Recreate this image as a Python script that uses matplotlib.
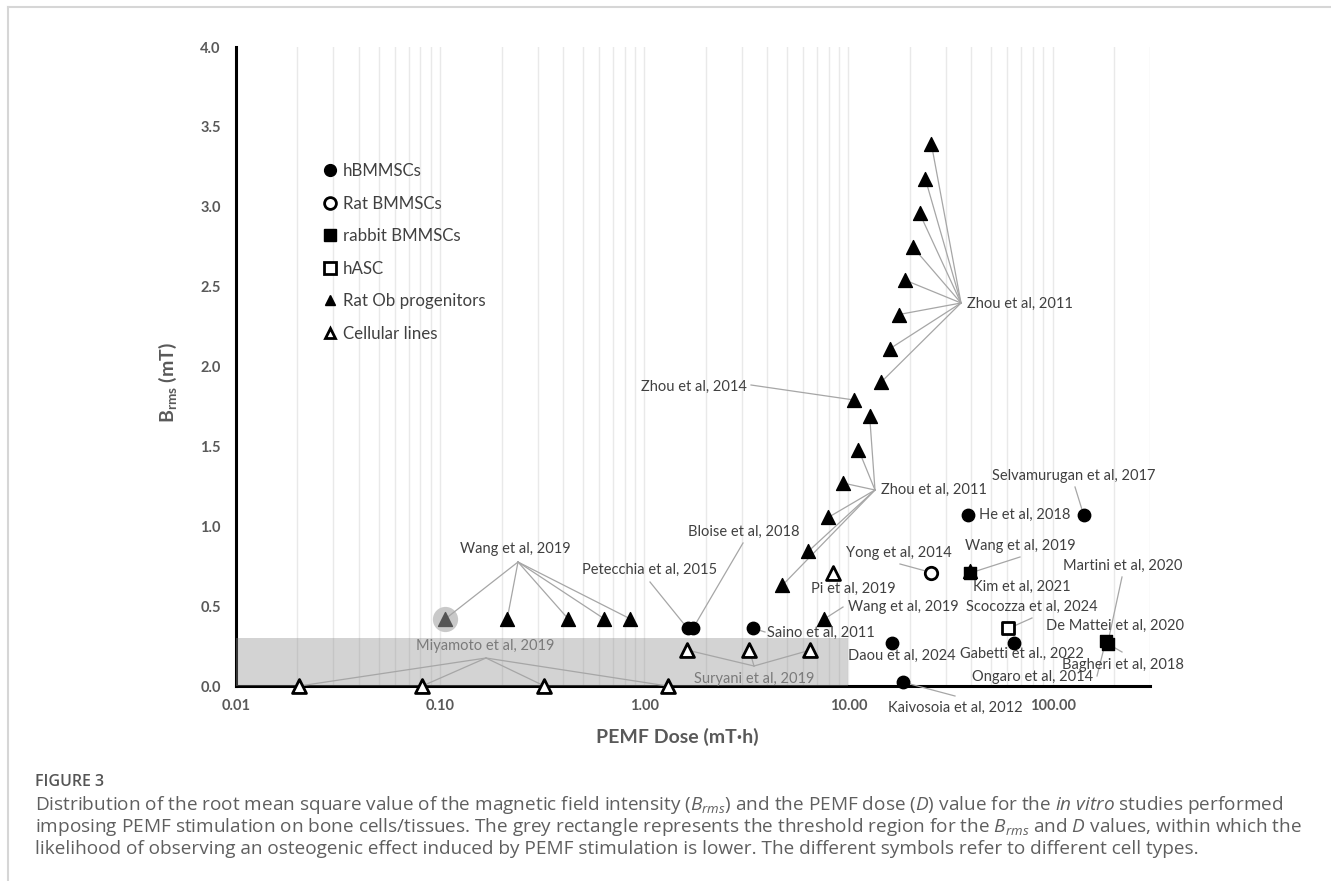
import matplotlib
matplotlib.use('Agg')
import matplotlib.pyplot as plt
from matplotlib.lines import Line2D
from matplotlib.patches import Rectangle
from matplotlib.ticker import FixedLocator, FormatStrFormatter, NullFormatter

plt.rcParams['font.family'] = ['Lato', 'DejaVu Sans']
plt.rcParams['mathtext.fontset'] = 'custom'
plt.rcParams['mathtext.rm'] = 'Lato'
plt.rcParams['mathtext.it'] = 'Lato:italic'
plt.rcParams['mathtext.bf'] = 'Lato:bold'

# ---------------- data (PEMF dose in mT*h, Brms in mT) ----------------
# hBMMSCs (filled circles)
petecchia_dose, petecchia_brms = [1.63], [0.36]
bloise_dose, bloise_brms = [1.73], [0.36]
saino_dose, saino_brms = [3.42], [0.36]
daou_dose, daou_brms = [16.3], [0.27]
kaivosoia_dose, kaivosoia_brms = [18.4], [0.025]
he_dose, he_brms = [38.7], [1.07]
selvamurugan_dose, selvamurugan_brms = [142.0], [1.07]
gabetti_dose, gabetti_brms = [64.4], [0.27]
# Rat BMMSCs (open circle)
yong_dose, yong_brms = [25.5], [0.71]
# rabbit BMMSCs (filled squares)
wang_rab_dose, wang_rab_brms = [39.2], [0.706]
demattei_dose, demattei_brms = [182.0], [0.28]
bagheri_dose, bagheri_brms = [186.0], [0.265]
# hASC (open square)
scocozza_dose, scocozza_brms = [60.8], [0.36]
# Rat Ob progenitors (filled triangles)
wang_ob_dose = [0.106, 0.213, 0.424, 0.637, 0.854]
wang_ob_brms = [0.42, 0.42, 0.42, 0.42, 0.42]
wang_ob2_dose, wang_ob2_brms = [7.63], [0.42]
kim_dose, kim_brms = [39.2], [0.72]
zhou11a_dose = [25.5, 23.8, 22.3, 20.6, 19.0, 17.6, 15.9, 14.4]
zhou11a_brms = [3.39, 3.175, 2.96, 2.75, 2.54, 2.325, 2.11, 1.90]
zhou14_dose, zhou14_brms = [10.7], [1.79]
zhou11b_dose = [12.7, 11.2, 9.45, 7.98, 6.37, 4.75]
zhou11b_brms = [1.69, 1.48, 1.27, 1.056, 0.844, 0.631]
# Cellular lines (open triangles)
miyamoto_dose = [0.0204, 0.0817, 0.324, 1.30]
miyamoto_brms = [0.0, 0.0, 0.0, 0.0]
suryani_dose = [1.62, 3.27, 6.51]
suryani_brms = [0.225, 0.225, 0.225]
pi_dose, pi_brms = [8.44], [0.71]

threshold_dose = 10.0
threshold_brms = 0.3

x_ticks = [0.01, 0.1, 1, 10, 100]
y_ticks = [0.0, 0.5, 1.0, 1.5, 2.0, 2.5, 3.0, 3.5, 4.0]
legend_labels = ['hBMMSCs', 'Rat BMMSCs', 'rabbit BMMSCs', 'hASC',
                 'Rat Ob progenitors', 'Cellular lines']

# ---------------- figure ----------------
W, H = 1331, 881
fig = plt.figure(figsize=(W / 100, H / 100), dpi=100)
ax = fig.add_axes([236 / W, 1 - 686 / H, (1150 - 236) / W, (686 - 47) / H])
ax.set_xscale('log')
ax.set_xlim(0.01, 300)
ax.set_ylim(0, 4)

def P(px, py):
    return tuple(ax.transData.inverted().transform((px, H - py)))

# grid / ticks
minor = [m * 10.0 ** e for e in range(-2, 3) for m in range(2, 10) if m * 10.0 ** e <= 300]
ax.xaxis.set_major_locator(FixedLocator(x_ticks))
ax.xaxis.set_major_formatter(FormatStrFormatter('%.2f'))
ax.xaxis.set_minor_locator(FixedLocator(minor))
ax.xaxis.set_minor_formatter(NullFormatter())
ax.set_yticks(y_ticks)
ax.yaxis.set_major_formatter(FormatStrFormatter('%.1f'))
ax.grid(which='both', axis='x', color='#e9e9e9', lw=1.0, zorder=0)
ax.set_axisbelow(True)
ax.tick_params(which='both', length=0, labelsize=10.5, labelcolor='#595959')
ax.tick_params(axis='y', pad=11)
ax.tick_params(axis='x', pad=9)
for lab in ax.get_xticklabels() + ax.get_yticklabels():
    lab.set_fontweight('bold')
for s in ['top', 'right']:
    ax.spines[s].set_visible(False)
for s in ['left', 'bottom']:
    ax.spines[s].set_linewidth(2.2)
    ax.spines[s].set_color('black')

# threshold rectangle
ax.add_patch(Rectangle((0.01, 0), threshold_dose - 0.01, threshold_brms,
                       facecolor='#8c8c8c', alpha=0.38, edgecolor='none', zorder=3,
                       clip_on=False))

# markers
ms_c, ms_t, ms_s = 80, 100, 80
def filled_circ(x, y):
    ax.scatter(x, y, s=ms_c, marker='o', color='black', zorder=5, clip_on=False)
def open_circ(x, y):
    ax.scatter(x, y, s=ms_c, marker='o', facecolor='white', edgecolor='black', linewidth=2, zorder=5, clip_on=False)
def filled_sq(x, y):
    ax.scatter(x, y, s=ms_s, marker='s', color='black', zorder=5, clip_on=False)
def open_sq(x, y):
    ax.scatter(x, y, s=ms_s, marker='s', facecolor='white', edgecolor='black', linewidth=2, zorder=5, clip_on=False)
def filled_tri(x, y, color='black'):
    ax.scatter(x, y, s=ms_t, marker='^', color=color, zorder=5, clip_on=False)
def open_tri(x, y):
    ax.scatter(x, y, s=ms_t, marker='^', facecolor='white', edgecolor='black', linewidth=2, zorder=5, clip_on=False)

for dx, dy in [(petecchia_dose, petecchia_brms), (bloise_dose, bloise_brms),
               (saino_dose, saino_brms), (daou_dose, daou_brms),
               (kaivosoia_dose, kaivosoia_brms), (he_dose, he_brms),
               (selvamurugan_dose, selvamurugan_brms), (gabetti_dose, gabetti_brms)]:
    filled_circ(dx, dy)
open_circ(yong_dose, yong_brms)
filled_tri(kim_dose, kim_brms)
for dx, dy in [(wang_rab_dose, wang_rab_brms), (demattei_dose, demattei_brms),
               (bagheri_dose, bagheri_brms)]:
    filled_sq(dx, dy)
open_sq(scocozza_dose, scocozza_brms)
# highlighted first point of the Wang cluster
ax.scatter(wang_ob_dose[:1], wang_ob_brms[:1], s=330, color='#c9c9c9', zorder=4, linewidth=0)
filled_tri(wang_ob_dose[:1], wang_ob_brms[:1], color='#555555')
filled_tri(wang_ob_dose[1:], wang_ob_brms[1:])
for dx, dy in [(wang_ob2_dose, wang_ob2_brms), (zhou11a_dose, zhou11a_brms),
               (zhou14_dose, zhou14_brms), (zhou11b_dose, zhou11b_brms)]:
    filled_tri(dx, dy)
for dx, dy in [(miyamoto_dose, miyamoto_brms), (suryani_dose, suryani_brms), (pi_dose, pi_brms)]:
    open_tri(dx, dy)

# ---------------- annotations ----------------
def pts(dx, dy):
    return list(zip(dx, dy))

DARK, LIGHT, LEAD = '#404040', '#7a7a7a', '#a6a6a6'
annotations = [
    ("Wang et al, 2019", (515, 549), 'center', (518, 562), pts(wang_ob_dose, wang_ob_brms), DARK),
    ("Miyamoto et al, 2019", (485, 646), 'center', (486, 658), pts(miyamoto_dose, miyamoto_brms), LIGHT),
    ("Suryani et al, 2019", (754, 679), 'center', (754, 666), pts(suryani_dose, suryani_brms), LIGHT),
    ("Petecchia et al, 2015", (650, 570), 'center', (650, 582), pts(petecchia_dose, petecchia_brms), DARK),
    ("Bloise et al, 2018", (744, 532), 'center', (743, 543), pts(bloise_dose, bloise_brms), DARK),
    ("Saino et al, 2011", (767, 633), 'left', (765, 632), pts(saino_dose, saino_brms), DARK),
    ("Wang et al, 2019", (848, 607), 'left', (843, 607), pts(wang_ob2_dose, wang_ob2_brms), DARK),
    ("Pi et al, 2019", (853, 589), 'center', None, [], DARK),
    ("Yong et al, 2014", (899, 553), 'center', (900, 564), pts(yong_dose, yong_brms), DARK),
    ("Daou et al, 2024", (902, 656), 'center', None, [], DARK),
    ("Kaivosoia et al, 2012", (955, 708), 'center', (955, 696), pts(kaivosoia_dose, kaivosoia_brms), DARK),
    ("He et al, 2018", (1025, 515), 'center', None, [], DARK),
    ("Selvamurugan et al, 2017", (1074, 476), 'center', (1075, 487), pts(selvamurugan_dose, selvamurugan_brms), DARK),
    ("Wang et al, 2019", (1020, 546), 'center', (1020, 557), pts(wang_rab_dose, wang_rab_brms), DARK),
    ("Kim et al, 2021", (1022, 587), 'center', None, [], DARK),
    ("Scocozza et al, 2024", (1032, 607), 'center', (1032, 618), pts(scocozza_dose, scocozza_brms), DARK),
    ("Gabetti et al., 2022", (1022, 654), 'center', None, [], DARK),
    ("Martini et al, 2020", (1123, 566), 'center', (1122, 577), pts(bagheri_dose, bagheri_brms), DARK),
    ("De Mattei et al, 2020", (1115, 626), 'center', None, [], DARK),
    ("Bagheri et al, 2018", (1123, 665), 'center', (1122, 652), pts(bagheri_dose, bagheri_brms), DARK),
    ("Ongaro et al, 2014", (1033, 677), 'center', (1097, 676), pts(demattei_dose, demattei_brms), DARK),
    ("Zhou et al, 2011", (967, 304), 'left', (961, 303), pts(zhou11a_dose, zhou11a_brms), DARK),
    ("Zhou et al, 2014", (694, 387), 'center', (751, 385), pts(zhou14_dose, zhou14_brms), DARK),
    ("Zhou et al, 2011", (881, 490), 'left', (875, 490), pts(zhou11b_dose, zhou11b_brms), DARK),
]

for text, tpos, ha, hub, targets, col in annotations:
    tx, ty = P(*tpos)
    ax.text(tx, ty, text, ha=ha, va='center', fontsize=10.5, color=col, zorder=6, clip_on=False)
    if hub is not None:
        hx, hy = P(*hub)
        for (x, y) in targets:
            ax.plot([hx, x], [hy, y], color=LEAD, lw=0.9, zorder=4.5, clip_on=False)

# legend
handles = [
    Line2D([], [], ls='none', marker='o', ms=8.5, mfc='black', mec='black'),
    Line2D([], [], ls='none', marker='o', ms=8.5, mfc='white', mec='black', mew=2),
    Line2D([], [], ls='none', marker='s', ms=8.5, mfc='black', mec='black'),
    Line2D([], [], ls='none', marker='s', ms=8.5, mfc='white', mec='black', mew=2),
    Line2D([], [], ls='none', marker='^', ms=7.5, mfc='black', mec='black'),
    Line2D([], [], ls='none', marker='^', ms=7.5, mfc='white', mec='black', mew=2),
]
leg = ax.legend(handles, legend_labels, loc='upper left',
                bbox_to_anchor=P(324, 163), bbox_transform=ax.transData,
                frameon=False, fontsize=12.2, labelcolor='#404040',
                handlelength=0.7, handletextpad=0.4, labelspacing=0.98,
                borderpad=0, borderaxespad=0)

# axis labels
fig.text(677 / W, 1 - 737 / H, 'PEMF Dose (mT·h)', ha='center', va='center',
         fontsize=14, fontweight='bold', color='#595959')
fig.text(168 / W, 1 - 383 / H, r'$\mathbf{B}_{\mathbf{rms}}$ (mT)', ha='center', va='center',
         rotation=90, fontsize=14, fontweight='bold', color='#595959')

# frame lines of the figure panel
fig.add_artist(Line2D([8 / W, 1], [1 - 7 / H, 1 - 7 / H], transform=fig.transFigure,
                      color='#d6d6d6', lw=1.5))
fig.add_artist(Line2D([8 / W, 8 / W], [0, 1 - 7 / H], transform=fig.transFigure,
                      color='#d6d6d6', lw=1.5))

# caption
fig.text(35 / W, 1 - 782 / H, 'FIGURE 3', ha='left', va='center', fontsize=11.5,
         color='#555555', fontweight='semibold', family=['Open Sans', 'DejaVu Sans'])
plt.rcParams['mathtext.it'] = 'Open Sans:italic'
plt.rcParams['mathtext.rm'] = 'Open Sans'
cap = [
    r'Distribution of the root mean square value of the magnetic field intensity ($\mathit{B}_{\mathit{rms}}$) and the PEMF dose ($\mathit{D}$) value for the $\mathit{in}$ $\mathit{vitro}$ studies performed',
    r'imposing PEMF stimulation on bone cells/tissues. The grey rectangle represents the threshold region for the $\mathit{B}_{\mathit{rms}}$ and $\mathit{D}$ values, within which the',
    'likelihood of observing an osteogenic effect induced by PEMF stimulation is lower. The different symbols refer to different cell types.',
]
for i, line in enumerate(cap):
    fig.text(35 / W, 1 - (805 + 22 * i) / H, line, ha='left', va='center',
             fontsize=13.7, color='#5f5f5f', family=['Open Sans', 'DejaVu Sans'])

fig.savefig('out.png', dpi=100)
